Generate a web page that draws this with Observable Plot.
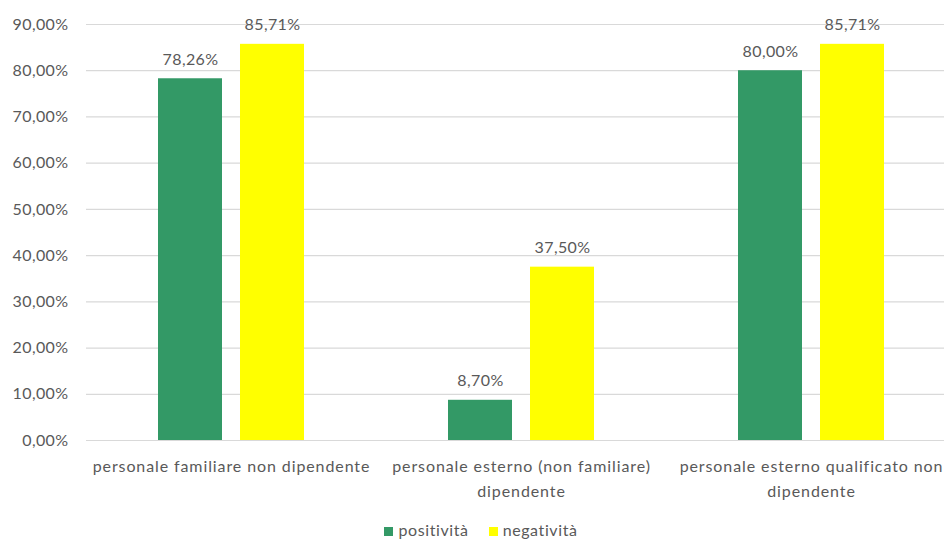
<!DOCTYPE html>
<html>
<head>
<meta charset="utf-8">
<script src="https://cdn.jsdelivr.net/npm/d3@7"></script>
<script src="https://cdn.jsdelivr.net/npm/@observablehq/plot@0.6"></script>
<style>
  body { margin: 0; background: #fff; font-family: Lato, "Open Sans", sans-serif; color: #595959; }
  #legend { display: flex; justify-content: center; gap: 20px; font-size: 16px; margin-top: 5px; padding-left: 18px; line-height: 20px; letter-spacing: 0.6px; }
  #legend span.sw { display: inline-block; width: 9px; height: 9px; margin-right: 5px; }
  .fxax text { letter-spacing: 0.9px; }
  .vals text, .yax text { letter-spacing: 0.4px; }
</style>
</head>
<body>
<div id="chart"></div>
<div id="legend"></div>
<script>
const categories = [
  "personale familiare non dipendente",
  "personale esterno (non familiare) dipendente",
  "personale esterno qualificato non dipendente"
];
const categoryLabels = [
  "personale familiare non dipendente",
  "personale esterno (non familiare)\ndipendente",
  "personale esterno qualificato non\ndipendente"
];
const series = ["positività", "negatività"];
const positivita = [0.7826, 0.0870, 0.8000];
const negativita = [0.8571, 0.3750, 0.8571];
const colors = ["#339966", "#FFFF00"];
const yTicks = [0, 0.1, 0.2, 0.3, 0.4, 0.5, 0.6, 0.7, 0.8, 0.9];

const data = [];
categories.forEach((c, i) => {
  data.push({cat: c, s: series[0], v: positivita[i]});
  data.push({cat: c, s: series[1], v: negativita[i]});
});

const it = d3.formatLocale({decimal: ",", thousands: ".", grouping: [3], currency: ["", "€"]});
const pct = it.format(".2%");
const catLabel = d => categoryLabels[categories.indexOf(d)];

const chart = Plot.plot({
  width: 944,
  height: 515,
  marginTop: 24,
  marginBottom: 75,
  marginLeft: 86,
  marginRight: 0,
  style: {fontFamily: "Lato, 'Open Sans', sans-serif", fontSize: "16px", color: "#595959", background: "#fff"},
  fx: {domain: categories, range: [86, 956], padding: 0, label: null, axis: null},
  x: {domain: series, paddingInner: 0.218, paddingOuter: 0.873, axis: null},
  y: {domain: [0, 0.9], label: null},
  color: {domain: series, range: colors},
  marks: [
    Plot.ruleY(yTicks, {stroke: "#d9d9d9", strokeWidth: 1.2}),
    Plot.axisY(yTicks, {tickSize: 0, tickPadding: 18, tickFormat: pct, fill: "#595959", fontSize: 16, label: null, className: "yax"}),
    Plot.axisFx({anchor: "bottom", tickSize: 0, tickPadding: 14, tickFormat: catLabel, fill: "#595959", fontSize: 16, lineHeight: 1.55, label: null, className: "fxax"}),
    Plot.barY(data, {fx: "cat", x: "s", y: "v", fill: "s"}),
    Plot.text(data, {fx: "cat", x: "s", y: "v", text: d => pct(d.v), dy: -19, fill: "#595959", fontSize: 16, className: "vals"})
  ]
});
document.getElementById("chart").appendChild(chart);

const leg = document.getElementById("legend");
series.forEach((s, i) => {
  const item = document.createElement("div");
  item.innerHTML = `<span class="sw" style="background:${colors[i]}"></span>${s}`;
  leg.appendChild(item);
});
</script>
</body>
</html>
